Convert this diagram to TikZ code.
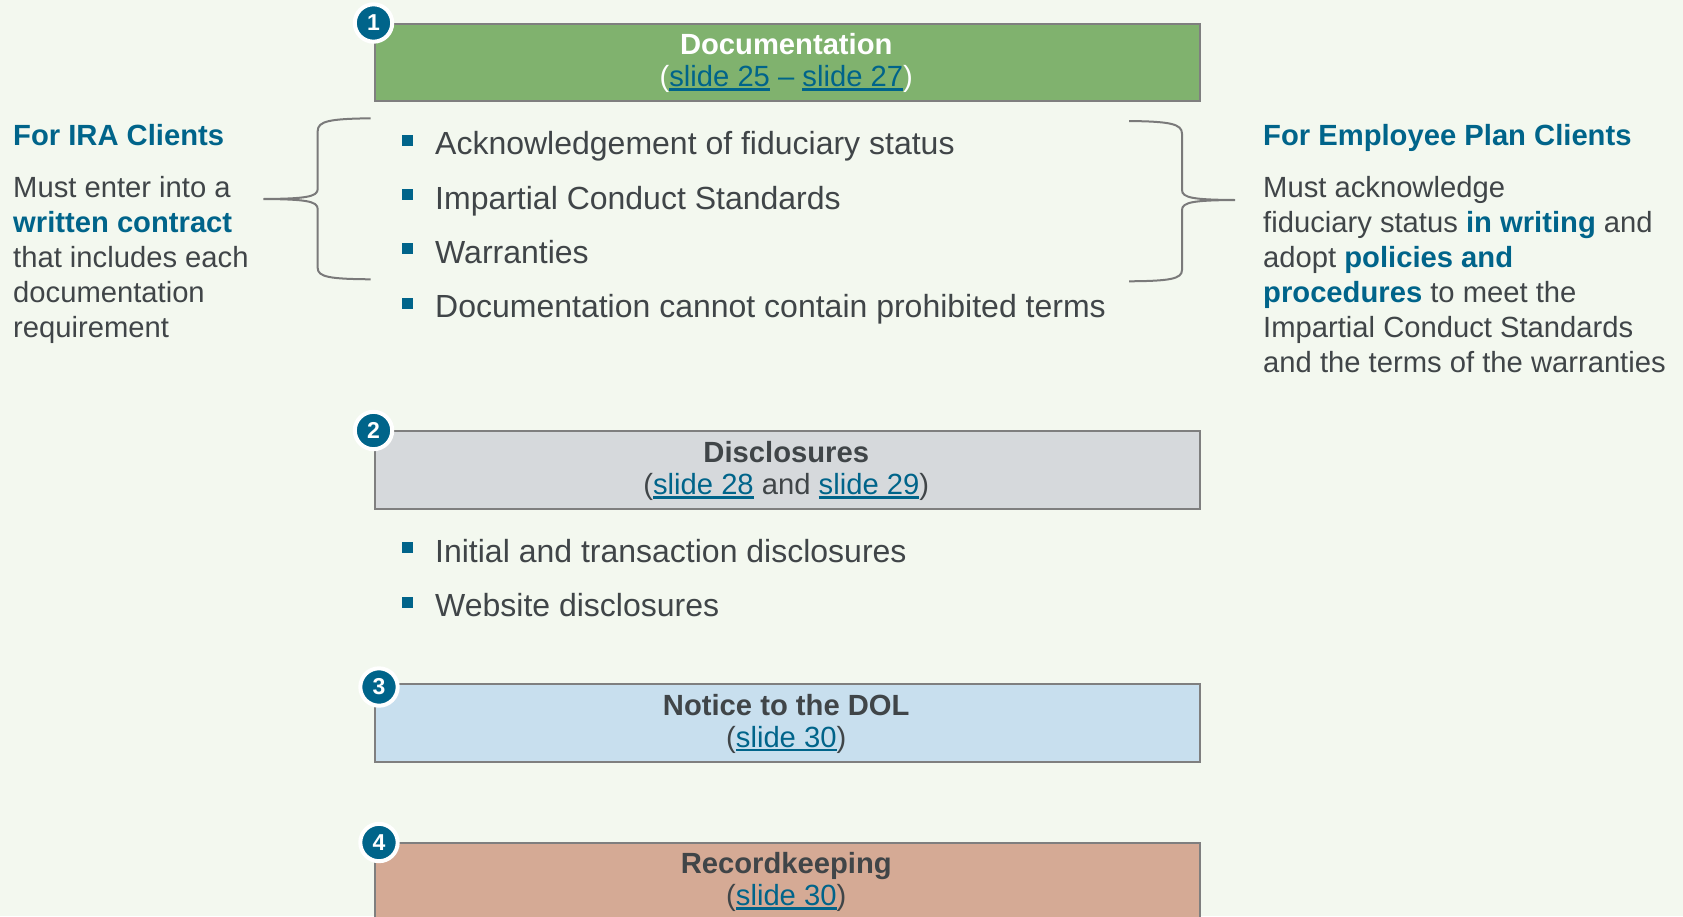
\documentclass[tikz,border=0pt]{standalone}
\usepackage{fontspec}
\setmainfont{Liberation Sans}
\definecolor{bg}{HTML}{F3F8EF}
\definecolor{teal1}{HTML}{00648A}
\definecolor{txt}{HTML}{404548}
\definecolor{g1}{HTML}{80B26E}
\definecolor{g2}{HTML}{D6D9DC}
\definecolor{b3}{HTML}{C8DFEE}
\definecolor{t4}{HTML}{D5AA95}
\definecolor{bord}{HTML}{7F7F7F}
\definecolor{bracec}{HTML}{7A7A7A}
\newcommand\lnk[1]{{\color{teal1}\vtop{\hbox{#1}\kern1.5pt\hrule height 2.4pt}}}
\tikzset{
 box/.style={draw=bord, line width=2pt, anchor=north west, minimum width=825.5pt, minimum height=77.5pt, inner sep=0pt},
 num/.style={circle, fill=teal1, draw=white, line width=4pt, minimum size=37.4pt, inner sep=0pt, text=white, font=\bfseries\fontsize{23}{23}\selectfont},
 hd/.style={anchor=base, text=txt, font=\bfseries\fontsize{29.2}{35}\selectfont, inner sep=0pt},
 hl/.style={anchor=base, text=txt, font=\fontsize{29.2}{35}\selectfont, inner sep=0pt},
 bul/.style={fill=teal1, minimum size=11pt, inner sep=0pt},
 btxt/.style={anchor=base west, text=txt, font=\fontsize{32}{38}\selectfont, inner sep=0pt},
 side/.style={anchor=base west, text=txt, font=\fontsize{29.2}{35}\selectfont, inner sep=0pt},
 sidehd/.style={anchor=base west, text=teal1, font=\bfseries\fontsize{29.2}{35}\selectfont, inner sep=0pt},
 brc/.style={draw=bracec, line width=2pt},
}
\newcommand\hi[1]{\textcolor{teal1}{\textbf{#1}}}
\begin{document}
\begin{tikzpicture}[x=1pt,y=-1pt]
\useasboundingbox (0,0) rectangle (1683,916);
\clip (0,0) rectangle (1683,916);
\fill[bg] (0,0) rectangle (1683,916);

% boxes
\node[box, fill=g1] (b1) at (373.5,22.5) {};
\node[box, fill=g2] (b2) at (373.5,430) {};
\node[box, fill=b3] (b3) at (373.5,683) {};
\node[box, fill=t4, minimum height=100pt] (b4) at (373.5,841.5) {};

% headers
\node[hd, text=white] (h1) at (786.25,54.5) {Documentation};
\node[hl, text=white] (h1b) at (786.25,86.5) {(\lnk{slide 25} \textcolor{teal1}{–} \lnk{slide 27})};
\node[hd] (h2) at (786.25,462.5) {Disclosures};
\node[hl] (h2b) at (786.25,494.5) {(\lnk{slide 28} and \lnk{slide 29})};
\node[hd] (h3) at (786.25,715) {Notice to the DOL};
\node[hl] (h3b) at (786.25,747) {(\lnk{slide 30})};
\node[hd] (h4) at (786.25,873.5) {Recordkeeping};
\node[hl] (h4b) at (786.25,905.5) {(\lnk{slide 30})};

% number circles
\node[num] (n1) at (373.5,23) {1};
\node[num] (n2) at (373.5,430.5) {2};
\node[num] (n3) at (379,687) {3};
\node[num] (n4) at (379,842.5) {4};

% bullets group 1
\node[bul] (q1) at (407.5,140.3) {};
\node[btxt] (a1) at (435,154.8) {Acknowledgement of fiduciary status};
\node[bul] (q2) at (407.5,194.6) {};
\node[btxt] (a2) at (435,209.1) {Impartial Conduct Standards};
\node[bul] (q3) at (407.5,248.9) {};
\node[btxt] (a3) at (435,263.4) {Warranties};
\node[bul] (q4) at (407.5,303.2) {};
\node[btxt] (a4) at (435,317.7) {Documentation cannot contain prohibited terms};

% bullets group 2
\node[bul] (q5) at (407.5,547.5) {};
\node[btxt] (a5) at (435,562) {Initial and transaction disclosures};
\node[bul] (q6) at (407.5,602) {};
\node[btxt] (a6) at (435,616.5) {Website disclosures};

% left side
\node[sidehd] (ira) at (13,145.5) {For IRA Clients};
\node[side] (l1) at (13,197) {Must enter into a};
\node[side] (l2) at (13,232) {\hi{written contract}};
\node[side] (l3) at (13,267) {that includes each};
\node[side] (l4) at (13,302) {documentation};
\node[side] (l5) at (13,337) {requirement};

% right side
\node[sidehd] (epc) at (1263,145.5) {For Employee Plan Clients};
\node[side] (r1) at (1263,197) {Must acknowledge};
\node[side] (r2) at (1263,232) {fiduciary status \hi{in writing} and};
\node[side] (r3) at (1263,267) {adopt \hi{policies and}};
\node[side] (r4) at (1263,302) {\hi{procedures} to meet the};
\node[side] (r5) at (1263,337) {Impartial Conduct Standards};
\node[side] (r6) at (1263,372) {and the terms of the warranties};

% braces
\draw[brc] (370.7,118.3) .. controls (330,118.8) and (317.7,121) .. (317.7,131)
  -- (317.7,189) .. controls (317.7,197) and (305,198.7) .. (263.3,199)
  .. controls (305,199.3) and (317.7,201) .. (317.7,209)
  -- (317.7,268) .. controls (317.7,277) and (330,279) .. (370.7,279.3);
\draw[brc] (1129,121) .. controls (1169.5,121.5) and (1182,123.7) .. (1182,133.7)
  -- (1182,190) .. controls (1182,198) and (1194,199.7) .. (1235,200)
  .. controls (1194,200.3) and (1182,202) .. (1182,210)
  -- (1182,270) .. controls (1182,279) and (1169.5,281) .. (1129,281.3);
\end{tikzpicture}
\end{document}
